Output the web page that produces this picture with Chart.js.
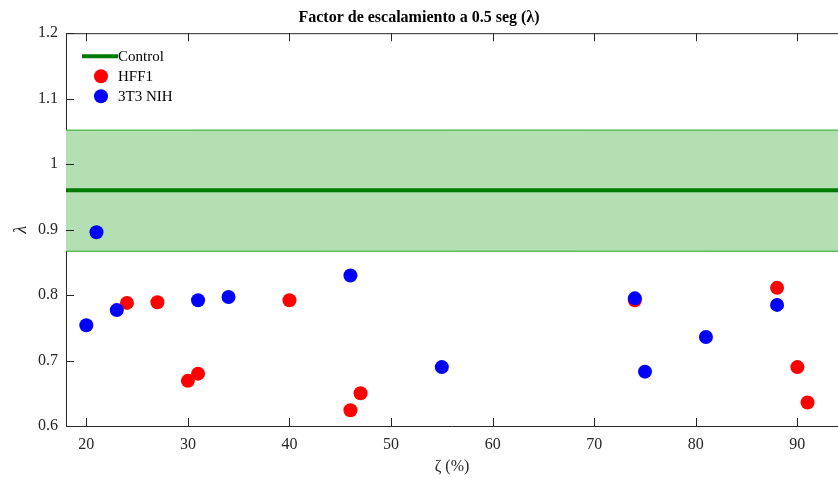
<!DOCTYPE html>
<html lang="es">
<head>
<meta charset="UTF-8">
<title>Factor de escalamiento</title>
<script src="https://cdn.jsdelivr.net/npm/chart.js"></script>
<style>
    html, body { margin: 0; padding: 0; background: #fff; }
    .chart-box { width: 838px; height: 478px; position: relative; }
</style>
</head>
<body>
<div class="chart-box">
    <canvas id="scaleChart"></canvas>
</div>
<script>
    // data
    const hffX = [24, 27, 30, 31, 40, 46, 47, 74, 88, 90, 91];
    const hffY = [0.788, 0.789, 0.669, 0.680, 0.792, 0.624, 0.650, 0.792, 0.811, 0.690, 0.636];
    const nihX = [20, 21, 23, 31, 34, 46, 55, 74, 75, 81, 88];
    const nihY = [0.754, 0.896, 0.777, 0.792, 0.797, 0.830, 0.690, 0.795, 0.683, 0.736, 0.785];
    const controlMean = 0.960;
    const controlUpper = 1.052;
    const controlLower = 0.867;
    const xRange = [18, 94];
    const xTicks = [20, 30, 40, 50, 60, 70, 80, 90];
    const yTicks = [0.6, 0.7, 0.8, 0.9, 1.0, 1.1, 1.2];

    const serif = '"Liberation Serif", "DejaVu Serif", serif';
    const axisColor = '#262626';

    const pts = (xs, ys) => xs.map((x, i) => ({ x: x, y: ys[i] }));
    const flat = v => xRange.map(x => ({ x: x, y: v }));

    // MATLAB style box: inward ticks and top edge
    const boxTicks = {
        id: 'boxTicks',
        afterDraw(chart) {
            const { ctx, chartArea: a, scales } = chart;
            ctx.save();
            ctx.strokeStyle = axisColor;
            ctx.lineWidth = 1;
            ctx.beginPath();
            ctx.moveTo(a.left, a.top + 0.5);
            ctx.lineTo(a.right, a.top + 0.5);
            xTicks.forEach(v => {
                const px = Math.round(scales.x.getPixelForValue(v)) + 0.5;
                ctx.moveTo(px, a.bottom);
                ctx.lineTo(px, a.bottom - 8);
                ctx.moveTo(px, a.top);
                ctx.lineTo(px, a.top + 8);
            });
            yTicks.forEach(v => {
                const py = Math.round(scales.y.getPixelForValue(v)) + 0.5;
                ctx.moveTo(a.left, py);
                ctx.lineTo(a.left + 8, py);
            });
            ctx.stroke();
            ctx.restore();
        }
    };

    // legend drawn inside the axes, upper left
    const innerLegend = {
        id: 'innerLegend',
        afterDraw(chart) {
            const { ctx, chartArea: a } = chart;
            const x0 = a.left + 16, tx = a.left + 52;
            const rows = [
                { label: 'Control', kind: 'line', color: '#007a00' },
                { label: 'HFF1', kind: 'dot', color: '#ff0000' },
                { label: '3T3 NIH', kind: 'dot', color: '#0000ff' }
            ];
            ctx.save();
            ctx.font = '15px ' + serif;
            ctx.textBaseline = 'middle';
            rows.forEach((r, i) => {
                const y = a.top + 23 + i * 20;
                if (r.kind === 'line') {
                    ctx.strokeStyle = r.color;
                    ctx.lineWidth = 4;
                    ctx.beginPath();
                    ctx.moveTo(x0, y);
                    ctx.lineTo(tx, y);
                    ctx.stroke();
                } else {
                    ctx.fillStyle = r.color;
                    ctx.beginPath();
                    ctx.arc(a.left + 35, y, 7, 0, Math.PI * 2);
                    ctx.fill();
                }
                ctx.fillStyle = '#000';
                ctx.fillText(r.label, tx, y + 1);
            });
            ctx.restore();
        }
    };

    new Chart(document.getElementById('scaleChart'), {
        type: 'scatter',
        data: {
            datasets: [
                {
                    label: '3T3 NIH',
                    data: pts(nihX, nihY),
                    backgroundColor: '#0000ff',
                    pointRadius: 7,
                    pointBorderWidth: 0,
                    order: 0
                },
                {
                    label: 'HFF1',
                    data: pts(hffX, hffY),
                    backgroundColor: '#ff0000',
                    pointRadius: 7,
                    pointBorderWidth: 0,
                    order: 1
                },
                {
                    label: 'Control',
                    type: 'line',
                    data: flat(controlMean),
                    borderColor: '#007a00',
                    borderWidth: 4,
                    pointRadius: 0,
                    order: 2
                },
                {
                    label: 'upper',
                    type: 'line',
                    data: flat(controlUpper),
                    borderColor: '#24a824',
                    borderWidth: 1,
                    pointRadius: 0,
                    fill: false,
                    order: 3
                },
                {
                    label: 'lower',
                    type: 'line',
                    data: flat(controlLower),
                    borderColor: '#24a824',
                    borderWidth: 1,
                    pointRadius: 0,
                    backgroundColor: 'rgb(179, 223, 179)',
                    fill: '-1',
                    order: 3
                }
            ]
        },
        options: {
            responsive: true,
            maintainAspectRatio: false,
            animation: false,
            layout: { padding: 0, autoPadding: false },
            plugins: {
                legend: { display: false },
                tooltip: { enabled: false },
                title: {
                    display: true,
                    text: 'Factor de escalamiento a 0.5 seg (λ)',
                    color: '#000',
                    font: { family: serif, size: 16, weight: 'bold' },
                    padding: { top: 8, bottom: 6 }
                }
            },
            scales: {
                x: {
                    type: 'linear',
                    min: xRange[0],
                    max: xRange[1],
                    afterBuildTicks: s => { s.ticks = xTicks.map(v => ({ value: v })); },
                    afterFit: s => { s.height = 52; s.paddingLeft = 0; s.paddingRight = 0; },
                    grid: { drawOnChartArea: false, drawTicks: false },
                    border: { color: axisColor, width: 1 },
                    ticks: {
                        color: axisColor,
                        padding: 9,
                        font: { family: serif, size: 16 }
                    },
                    title: {
                        display: true,
                        text: 'ζ (%)',
                        color: axisColor,
                        font: { family: serif, size: 16 },
                        padding: { top: 0, bottom: 2 }
                    }
                },
                y: {
                    min: 0.6,
                    max: 1.2,
                    afterBuildTicks: s => { s.ticks = yTicks.map(v => ({ value: v })); },
                    afterFit: s => { s.width = 66; s.paddingTop = 0; s.paddingBottom = 0; },
                    grid: { drawOnChartArea: false, drawTicks: false },
                    border: { color: axisColor, width: 1 },
                    ticks: {
                        color: axisColor,
                        padding: 8,
                        font: { family: serif, size: 16 },
                        callback: v => String(Number(v.toFixed(1)))
                    },
                    title: {
                        display: true,
                        text: 'λ',
                        color: axisColor,
                        font: { family: serif, size: 18, style: 'italic' },
                        padding: { top: 10, bottom: 0 }
                    }
                }
            }
        },
        plugins: [boxTicks, innerLegend]
    });
</script>
</body>
</html>
